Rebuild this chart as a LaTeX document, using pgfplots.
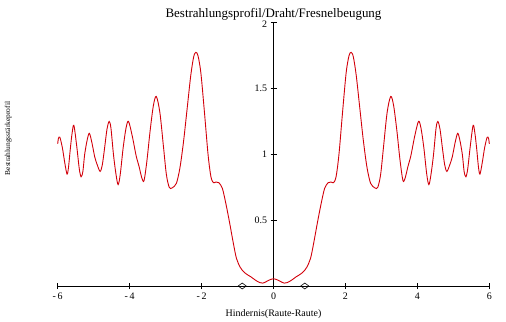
\documentclass[border=0pt]{standalone}
\usepackage{fontspec}
\setmainfont{Liberation Serif}
\usepackage{pgfplots}
\pgfplotsset{compat=1.18}
\definecolor{curvered}{RGB}{210,0,10}
\begin{document}
\begin{tikzpicture}[x=1bp,y=1bp]
\useasboundingbox (-57.7,-35) rectangle (448.3,286);
\begin{axis}[
  at={(0,0)}, anchor=south west,
  scale only axis, width=431.6bp, height=263.3bp,
  xmin=-6, xmax=6, ymin=0, ymax=2,
  axis lines=middle,
  axis line style={black, line width=0.8bp, -},
  xtick={-6,-4,-2,0,2,4,6},
  xticklabels={-\,6,-\,4,-\,2,0,2,4,6},
  ytick={0.5,1,1.5},
  yticklabels={0.5,1,1.5},
  extra y ticks={2},
  extra y tick labels={2},
  extra y tick style={yticklabel style={yshift=-2bp}},
  hide obscured x ticks=false,
  hide obscured y ticks=false,
  tick style={black, line width=0.8bp},
  major tick length=6bp,
  tick align=center,
  tick label style={font=\fontsize{10}{12}\selectfont},
  /pgf/number format/assume math mode=true,
  clip=false,
]
\addplot[curvered, line width=0.9bp, smooth, tension=0.5] coordinates {
(-6.00,1.08) (-5.98,1.12) (-5.94,1.13) (-5.87,1.05) (-5.80,0.93) (-5.74,0.85)
(-5.70,0.90) (-5.65,1.04) (-5.60,1.16) (-5.55,1.22) (-5.47,1.06) (-5.40,0.89)
(-5.35,0.83) (-5.30,0.87) (-5.25,1.00) (-5.18,1.11) (-5.12,1.16) (-5.05,1.09)
(-4.97,0.98) (-4.90,0.92) (-4.82,0.87) (-4.76,0.92) (-4.70,1.04) (-4.63,1.19)
(-4.57,1.25) (-4.52,1.20) (-4.45,1.00) (-4.38,0.85) (-4.32,0.77) (-4.26,0.85)
(-4.18,1.05) (-4.10,1.20) (-4.03,1.25) (-3.92,1.13) (-3.82,0.99) (-3.74,0.91)
(-3.66,0.82) (-3.60,0.80) (-3.52,0.95) (-3.43,1.18) (-3.34,1.37) (-3.26,1.44)
(-3.16,1.32) (-3.06,1.06) (-2.98,0.85) (-2.90,0.75) (-2.82,0.745) (-2.70,0.78)
(-2.60,0.90) (-2.50,1.10) (-2.40,1.35) (-2.30,1.60) (-2.22,1.74) (-2.16,1.775)
(-2.10,1.75) (-2.02,1.62) (-1.92,1.32) (-1.82,1.00) (-1.74,0.83) (-1.67,0.785)
(-1.60,0.79) (-1.52,0.785) (-1.42,0.74) (-1.32,0.62) (-1.22,0.48) (-1.12,0.33)
(-1.03,0.21) (-0.92,0.14) (-0.80,0.10) (-0.62,0.068) (-0.45,0.035) (-0.30,0.022)
(-0.12,0.045) (0.00,0.055)
(0.12,0.045) (0.30,0.022) (0.45,0.035) (0.62,0.068) (0.80,0.10) (0.92,0.14)
(1.03,0.21) (1.12,0.33) (1.22,0.48) (1.32,0.62) (1.42,0.74) (1.52,0.785)
(1.60,0.79) (1.67,0.785) (1.74,0.83) (1.82,1.00) (1.92,1.32) (2.02,1.62)
(2.10,1.75) (2.16,1.775) (2.22,1.74) (2.30,1.60) (2.40,1.35) (2.50,1.10)
(2.60,0.90) (2.70,0.78) (2.82,0.745) (2.90,0.75) (2.98,0.85) (3.06,1.06)
(3.16,1.32) (3.26,1.44) (3.34,1.37) (3.43,1.18) (3.52,0.95) (3.60,0.80)
(3.66,0.82) (3.74,0.91) (3.82,0.99) (3.92,1.13) (4.03,1.25) (4.10,1.20)
(4.18,1.05) (4.26,0.85) (4.32,0.77) (4.38,0.85) (4.45,1.00) (4.52,1.20)
(4.57,1.25) (4.63,1.19) (4.70,1.04) (4.76,0.92) (4.82,0.87) (4.90,0.92)
(4.97,0.98) (5.05,1.09) (5.12,1.16) (5.18,1.11) (5.25,1.00) (5.30,0.87)
(5.35,0.83) (5.40,0.89) (5.47,1.06) (5.55,1.22) (5.60,1.16) (5.65,1.04)
(5.70,0.90) (5.74,0.85) (5.80,0.93) (5.87,1.05) (5.94,1.13) (5.98,1.12)
(6.00,1.08)
};
\addplot[only marks, mark=diamond, mark size=4bp, black, line width=0.6bp,
  mark options={rotate=90, fill=white, solid}] coordinates {(-0.87,0) (0.87,0)};
\node[anchor=base, font=\fontsize{13}{15}\selectfont, yshift=5.2bp] at (axis cs:0,2) {Bestrahlungsprofil/Draht/Fresnelbeugung};
\node[anchor=base, font=\fontsize{10}{12}\selectfont, yshift=-30bp] at (axis cs:0,0) {Hindernis(Raute-Raute)};
\node[anchor=base, rotate=90, font=\fontsize{7.5}{9}\selectfont] at (axis cs:-7.32,1.12) {Bestrahlungsstärkeprofil};
\end{axis}
\end{tikzpicture}
\end{document}
